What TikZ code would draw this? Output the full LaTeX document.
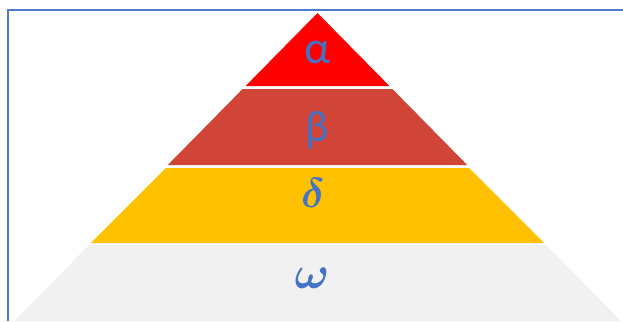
\RequirePackage{fix-cm}
\documentclass[tikz,border=0pt]{standalone}
\usepackage{amsmath,amssymb,bm}
\usepackage{fontspec}
\newfontfamily\greeksans{Carlito}
\definecolor{bordblue}{HTML}{4F7BCB}
\definecolor{txtblue}{HTML}{4472C4}
\definecolor{lred}{HTML}{FF0000}
\definecolor{lbrown}{HTML}{D04537}
\definecolor{lyellow}{HTML}{FFC000}
\definecolor{lgray}{HTML}{F1F1F1}
\tikzset{
  lbl/.style={text=txtblue, inner sep=0pt, anchor=center},
}
\begin{document}
\begin{tikzpicture}[x=1pt,y=-1pt]
\useasboundingbox (0,0) rectangle (623,321);
% layers (apex at 317.5,13; half-width = 0.985*(y-13))
\fill[lred] (317.5,13) -- (389.4,86) -- (245.6,86) -- cycle;
\fill[lbrown] (242.6,89) -- (392.4,89) -- (467.2,165) -- (167.8,165) -- cycle;
\fill[lyellow] (165.8,168) -- (469.2,168) -- (544.1,243) -- (90.9,243) -- cycle;
\fill[lgray] (89.0,245) -- (546.0,245) -- (620.9,321) -- (14.1,321) -- cycle;
% border
\draw[bordblue, line width=2.4pt] (8,321) -- (8,10) -- (623,10);
% labels
\node[lbl] (a) at (318,52) {\fontsize{46}{46}\selectfont\greeksans α};
\node[lbl] (b) at (317,130) {\fontsize{44}{44}\selectfont\greeksans β};
\node[lbl] (d) at (313,193) {\fontsize{42}{42}\selectfont$\bm{\delta}$};
\node[lbl] (w) at (312,278) {\fontsize{46}{46}\selectfont$\bm{\omega}$};
\end{tikzpicture}
\end{document}
